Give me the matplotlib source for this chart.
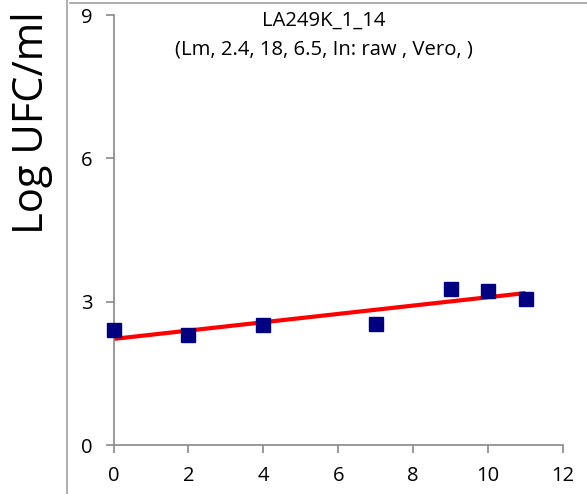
import matplotlib.pyplot as plt
from matplotlib.lines import Line2D

# observed points
days = [0, 2, 4, 7, 9, 10, 11]
log_ufc = [2.41, 2.31, 2.52, 2.53, 3.26, 3.23, 3.05]

# fitted line
fit_x = [0, 11]
fit_y = [2.22, 3.18]

title1 = "LA249K_1_14"
title2 = "(Lm, 2.4, 18, 6.5, In: raw , Vero, )"

plt.rcParams['font.family'] = ['Open Sans', 'DejaVu Sans']

fig = plt.figure(figsize=(5.87, 4.94), dpi=100)
ax = fig.add_axes([113.5/587, 1-445/494, (563-113.5)/587, (445-15)/494])

ax.plot(fit_x, fit_y, color='#ff0000', lw=3, solid_capstyle='butt', zorder=2)
ax.plot(days, log_ufc, ls='none', marker='s', ms=9.5, color='#000080',
        clip_on=False, zorder=3)

ax.set_xlim(0, 12)
ax.set_ylim(0, 9)
ax.set_xticks([0, 2, 4, 6, 8, 10, 12])
ax.set_yticks([0, 3, 6, 9])

gray = '#898989'
for s in ['top', 'right']:
    ax.spines[s].set_visible(False)
for s in ['left', 'bottom']:
    ax.spines[s].set_color(gray)
    ax.spines[s].set_linewidth(1.2)
ax.tick_params(direction='out', length=6, width=1.2, color=gray,
               labelsize=14.5, pad=9)

fig.text(324/587, 1-21/494, title1, ha='center', va='center', fontsize=14.6)
fig.text(324/587, 1-49/494, title2, ha='center', va='center', fontsize=14.6)

fig.text(32/587, 1-123/494, "Log UFC/ml", rotation=90, ha='center',
         va='center', fontsize=30)

# chart area border
fig.add_artist(Line2D([67/587, 67/587], [0, 1], color='#a0a0a0', lw=1.2,
                      transform=fig.transFigure))
fig.add_artist(Line2D([70/587, 1], [1-3/494, 1-3/494], color='#a0a0a0', lw=1.2,
                      transform=fig.transFigure))

fig.savefig("out.png", dpi=100)
